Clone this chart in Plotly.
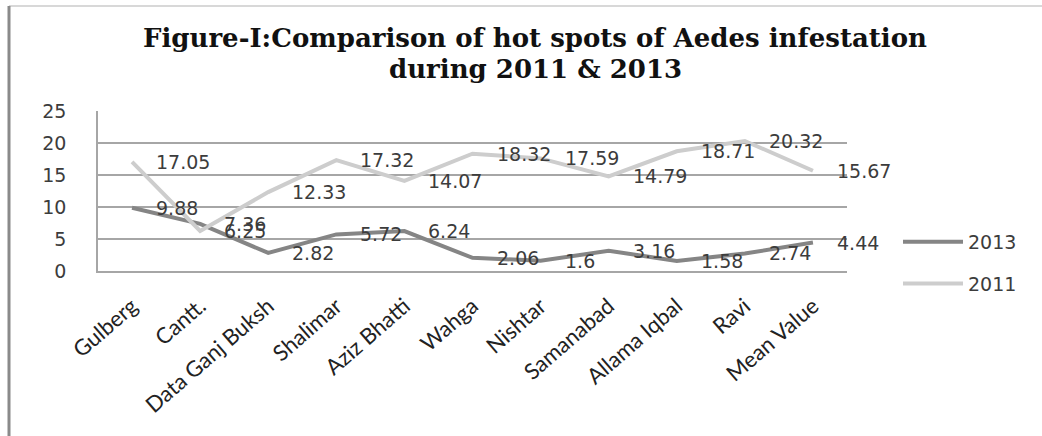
import plotly.graph_objects as go

categories = ["Gulberg", "Cantt.", "Data Ganj Buksh", "Shalimar", "Aziz Bhatti", "Wahga",
              "Nishtar", "Samanabad", "Allama Iqbal", "Ravi", "Mean Value"]
values_2013 = [9.88, 7.36, 2.82, 5.72, 6.24, 2.06, 1.6, 3.16, 1.58, 2.74, 4.44]
values_2011 = [17.05, 6.25, 12.33, 17.32, 14.07, 18.32, 17.59, 14.79, 18.71, 20.32, 15.67]
y_ticks = [0, 5, 10, 15, 20, 25]
title_lines = ["Figure-I:Comparison of hot spots of Aedes infestation", "during 2011 &amp; 2013"]

W, H = 1042, 436
L, R, T, B = 98, 195, 111, 165
PW, PH = W - L - R, H - T - B


def px_x(p):
    return (p - L) / PW


def px_y(p):
    return (H - B - p) / PH


fig = go.Figure()
fig.add_trace(go.Scatter(x=categories, y=values_2013, mode="lines", name="2013",
                         line=dict(color="#858585", width=4), legendgroup="a"))
fig.add_trace(go.Scatter(x=categories, y=values_2011, mode="lines", name="2011",
                         line=dict(color="#cdcdcd", width=4), legendgroup="b"))

annotations = []
for series in (values_2011, values_2013):
    for c, v in zip(categories, series):
        annotations.append(dict(x=c, y=v, xref="x", yref="y", text=f"{v:g}",
                                showarrow=False, xanchor="left", yanchor="middle",
                                xshift=22, font=dict(family="DejaVu Sans", size=19, color="#3c3c3c")))

for line_text, py in zip(title_lines, (38, 69)):
    annotations.append(dict(x=px_x(535), y=px_y(py), xref="paper", yref="paper", showarrow=False,
                            text=f"<b>{line_text}</b>",
                            font=dict(family="DejaVu Serif", size=26, color="#111111"),
                            xanchor="center", yanchor="middle"))

fig.update_layout(
    width=W, height=H,
    margin=dict(l=L, r=R, t=T, b=B),
    paper_bgcolor="white", plot_bgcolor="white",
    showlegend=True,
    legend=dict(x=px_x(898), y=px_y(263), xanchor="left", yanchor="middle",
                font=dict(family="DejaVu Sans", size=19, color="#3c3c3c"),
                itemwidth=60,
                tracegroupgap=14, traceorder="grouped", bgcolor="rgba(0,0,0,0)"),
    annotations=annotations,
    shapes=[
        dict(type="line", xref="paper", yref="paper", x0=px_x(9), x1=px_x(W),
             y0=px_y(6), y1=px_y(6), line=dict(color="#d8d8d8", width=2)),
        dict(type="line", xref="paper", yref="paper", x0=px_x(9), x1=px_x(9),
             y0=px_y(6), y1=px_y(H), line=dict(color="#8a8a8a", width=3)),
    ],
    xaxis=dict(range=[-0.5, len(categories) - 0.5], tickangle=-41, showgrid=False, zeroline=False,
               showline=True, linecolor="#a6a6a6", linewidth=1.5, ticks="", ticklabelstandoff=12,
               tickfont=dict(family="Lato", size=22, color="#222222")),
    yaxis=dict(range=[0, 25], tickvals=y_ticks, showgrid=True, gridcolor="#a6a6a6", gridwidth=1.5,
               zeroline=False, showline=True, linecolor="#a6a6a6", linewidth=1.5, ticks="",
               ticklabelstandoff=26,
               tickfont=dict(family="DejaVu Sans", size=19, color="#3c3c3c")),
)

fig.write_html("out.html")
